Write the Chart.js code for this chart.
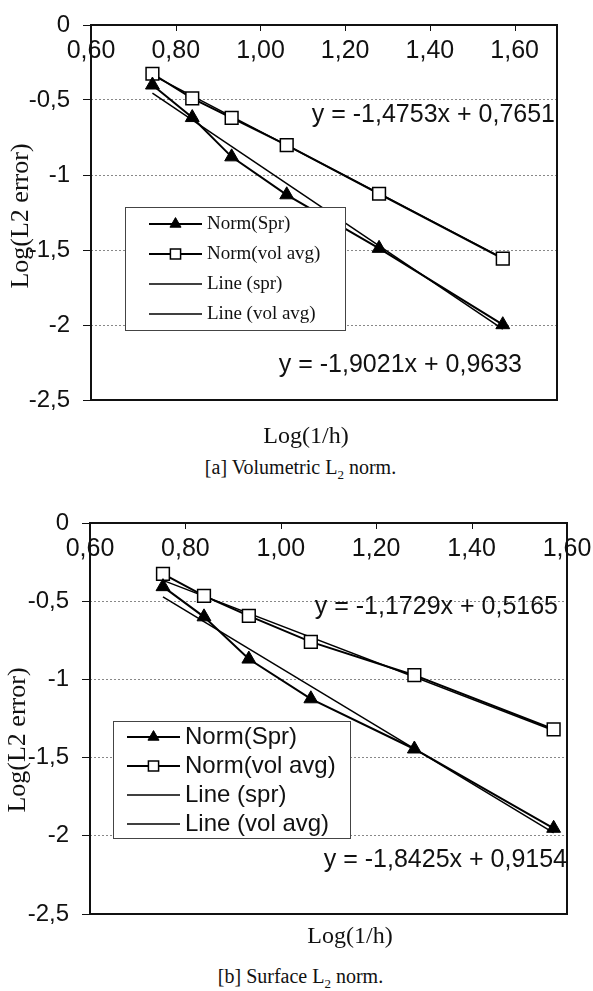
<!DOCTYPE html>
<html>
<head>
<meta charset="utf-8">
<script src="https://cdn.jsdelivr.net/npm/chart.js@4.4.0/dist/chart.umd.min.js"></script>
<style>
  body { margin: 0; background: #fff; width: 593px; height: 991px; position: relative; overflow: hidden; }
  .box { position: absolute; left: 0; width: 593px; }
  .cap { position: absolute; left: 4px; width: 593px; text-align: center; font: 20px "Liberation Serif", "Times New Roman", serif; color: #111; }
  .cap sub { font-size: 13px; }
</style>
</head>
<body>
<div class="box" style="top:0;height:449px"><canvas id="chartA"></canvas></div>
<div class="cap" style="top:456px">[a] Volumetric L<sub>2</sub> norm.</div>
<div class="box" style="top:498px;height:451px"><canvas id="chartB"></canvas></div>
<div class="cap" style="top:965px">[b] Surface L<sub>2</sub> norm.</div>
<script>
// x = Log(1/h), y = Log(L2 error)
var xTicks = [0.6, 0.8, 1.0, 1.2, 1.4, 1.6];
var yTicks = [0, -0.5, -1, -1.5, -2, -2.5];
var seriesNames = ['Norm(Spr)', 'Norm(vol avg)', 'Line (spr)', 'Line (vol avg)'];

// [a] volumetric L2 norm
var logInvHA = [0.745, 0.839, 0.932, 1.062, 1.280, 1.572];
var sprA     = [-0.40, -0.617, -0.879, -1.132, -1.489, -1.998];
var volAvgA  = [-0.325, -0.489, -0.619, -0.801, -1.125, -1.558];
var trendXA   = [0.745, 1.572];
var trendSprA = [-0.454, -2.027];
var trendVolA = [-0.334, -1.554];
var eqSprA = [-1.9021, 0.9633];
var eqVolA = [-1.4753, 0.7651];

// [b] surface L2 norm
var logInvHB = [0.753, 0.839, 0.933, 1.063, 1.280, 1.572];
var sprB     = [-0.407, -0.60, -0.87, -1.124, -1.445, -1.952];
var volAvgB  = [-0.325, -0.466, -0.594, -0.760, -0.973, -1.319];
var trendXB   = [0.753, 1.572];
var trendSprB = [-0.472, -1.981];
var trendVolB = [-0.367, -1.327];
var eqSprB = [-1.8425, 0.9154];
var eqVolB = [-1.1729, 0.5165];

var SANS = '"Liberation Sans", Arial, sans-serif';
var SERIF = '"Liberation Serif", "Times New Roman", serif';

function pts(xs, ys) {
  return xs.map(function (x, i) { return { x: x, y: ys[i] }; });
}
function comma(v, n) {
  return (n == null ? String(v) : v.toFixed(n)).replace('.', ',');
}
function eqText(c) {
  return 'y = ' + comma(c[0], 4) + 'x + ' + comma(c[1], 4);
}

function makeDeco(d) {
  return {
    id: 'deco',
    afterDraw: function (chart) {
      var ctx = chart.ctx, a = chart.chartArea;
      ctx.save();
      // plot frame
      ctx.strokeStyle = '#111';
      ctx.lineWidth = 2;
      ctx.strokeRect(a.left, a.top, a.right - a.left, a.bottom - a.top);

      // small inside ticks on the top axis
      var xs = chart.scales.x;
      ctx.lineWidth = 1;
      xTicks.forEach(function (v) {
        var px = Math.round(xs.getPixelForValue(v)) + 0.5;
        ctx.beginPath();
        ctx.moveTo(px, a.top);
        ctx.lineTo(px, a.top + 6);
        ctx.stroke();
      });

      // trendline equations
      ctx.fillStyle = '#111';
      ctx.font = '25px ' + SANS;
      ctx.textAlign = 'right';
      ctx.textBaseline = 'middle';
      d.eqs.forEach(function (e) { ctx.fillText(eqText(e.c), e.x, e.y); });

      // axis titles
      ctx.textAlign = 'center';
      ctx.font = '24px ' + SERIF;
      ctx.fillText('Log(1/h)', d.xTitle[0], d.xTitle[1]);
      ctx.save();
      ctx.translate(d.yTitle[0], d.yTitle[1]);
      ctx.rotate(-Math.PI / 2);
      ctx.font = '26px ' + SERIF;
      ctx.fillText('Log(L2 error)', 0, 0);
      ctx.restore();

      // legend
      var L = d.legend;
      ctx.fillStyle = '#fff';
      ctx.fillRect(L.box[0], L.box[1], L.box[2] - L.box[0], L.box[3] - L.box[1]);
      ctx.strokeStyle = '#444';
      ctx.lineWidth = 1;
      ctx.strokeRect(L.box[0] + 0.5, L.box[1] + 0.5, L.box[2] - L.box[0], L.box[3] - L.box[1]);
      chart.data.datasets.forEach(function (ds, i) {
        var y = L.rowY + i * L.rowH;
        ctx.strokeStyle = ds.borderColor;
        ctx.lineWidth = ds.borderWidth;
        ctx.beginPath();
        ctx.moveTo(L.line[0], y);
        ctx.lineTo(L.line[1], y);
        ctx.stroke();
        if (ds.pointRadius > 0) {
          ctx.fillStyle = ds.pointBackgroundColor;
          ctx.strokeStyle = ds.borderColor;
          ctx.lineWidth = ds.pointBorderWidth;
          Chart.helpers.drawPoint(ctx, {
            pointStyle: ds.pointStyle, radius: ds.pointRadius * 0.8,
            rotation: 0, borderWidth: ds.pointBorderWidth
          }, (L.line[0] + L.line[1]) / 2, y);
        }
        ctx.fillStyle = '#111';
        ctx.font = L.font;
        ctx.textAlign = 'left';
        ctx.textBaseline = 'middle';
        ctx.fillText(ds.label, L.textX, y);
      });
      ctx.restore();
    }
  };
}

function makeChart(id, d) {
  return new Chart(document.getElementById(id), {
    type: 'scatter',
    data: {
      datasets: [
        { label: seriesNames[0], data: pts(d.x, d.spr), showLine: true,
          borderColor: '#000', borderWidth: 2, pointStyle: 'triangle', pointRadius: 8,
          pointBackgroundColor: '#000', pointBorderWidth: 1 },
        { label: seriesNames[1], data: pts(d.x, d.vol), showLine: true,
          borderColor: '#000', borderWidth: 2, pointStyle: 'rect', pointRadius: 9,
          pointBackgroundColor: '#fff', pointBorderWidth: 1.5 },
        { label: seriesNames[2], data: pts(d.tx, d.tSpr), showLine: true,
          borderColor: '#000', borderWidth: 1.5, pointRadius: 0 },
        { label: seriesNames[3], data: pts(d.tx, d.tVol), showLine: true,
          borderColor: '#000', borderWidth: 1.5, pointRadius: 0 }
      ]
    },
    options: {
      responsive: true,
      maintainAspectRatio: false,
      animation: false,
      layout: { padding: { left: 0, right: d.padRight, top: 0, bottom: d.padBottom } },
      plugins: { legend: { display: false }, tooltip: { enabled: false } },
      scales: {
        x: {
          type: 'linear', position: 'top', min: 0.6, max: d.xMax,
          afterBuildTicks: function (s) { s.ticks = xTicks.map(function (v) { return { value: v }; }); },
          afterFit: function (s) { s.height = 14; s.paddingLeft = 0; s.paddingRight = 0; },
          grid: { display: false },
          border: { display: false },
          // mirror: labels sit inside the plot, under the top edge, and are not clipped
          ticks: { mirror: true, padding: 11, color: '#111', maxRotation: 0, autoSkip: false,
            font: { family: SANS, size: 25 },
            callback: function (v) { return comma(v, 2); } }
        },
        y: {
          min: -2.5, max: 0,
          afterBuildTicks: function (s) { s.ticks = yTicks.map(function (v) { return { value: v }; }); },
          afterFit: function (s) { s.width = d.left; },
          grid: { color: '#888', lineWidth: 1, tickLength: 8, tickColor: '#111', tickBorderDash: [8, 0] },
          border: { display: false, dash: [2, 2] },
          ticks: { padding: 13, color: '#111', font: { family: SANS, size: 24, lineHeight: 1 },
            callback: function (v) { return comma(v); } }
        }
      }
    },
    plugins: [makeDeco(d)]
  });
}

makeChart('chartA', {
  x: logInvHA, spr: sprA, vol: volAvgA, tx: trendXA, tSpr: trendSprA, tVol: trendVolA,
  xMax: 1.7, left: 91, padRight: 36, padBottom: 49,
  eqs: [{ c: eqVolA, x: 555, y: 115 }, { c: eqSprA, x: 522, y: 365 }],
  xTitle: [306, 437], yTitle: [21, 216],
  legend: { box: [125, 207, 345, 330], rowY: 224, rowH: 30, line: [149, 202], textX: 207,
    font: '19px ' + SERIF }
});

makeChart('chartB', {
  x: logInvHB, spr: sprB, vol: volAvgB, tx: trendXB, tSpr: trendSprB, tVol: trendVolB,
  xMax: 1.6, left: 90, padRight: 26, padBottom: 35,
  eqs: [{ c: eqVolB, x: 558, y: 109 }, { c: eqSprB, x: 567, y: 362 }],
  xTitle: [350, 439], yTitle: [18, 242],
  legend: { box: [113, 223, 350, 340], rowY: 239, rowH: 29, line: [127, 180], textX: 185,
    font: '24px ' + SANS }
});
</script>
</body>
</html>
